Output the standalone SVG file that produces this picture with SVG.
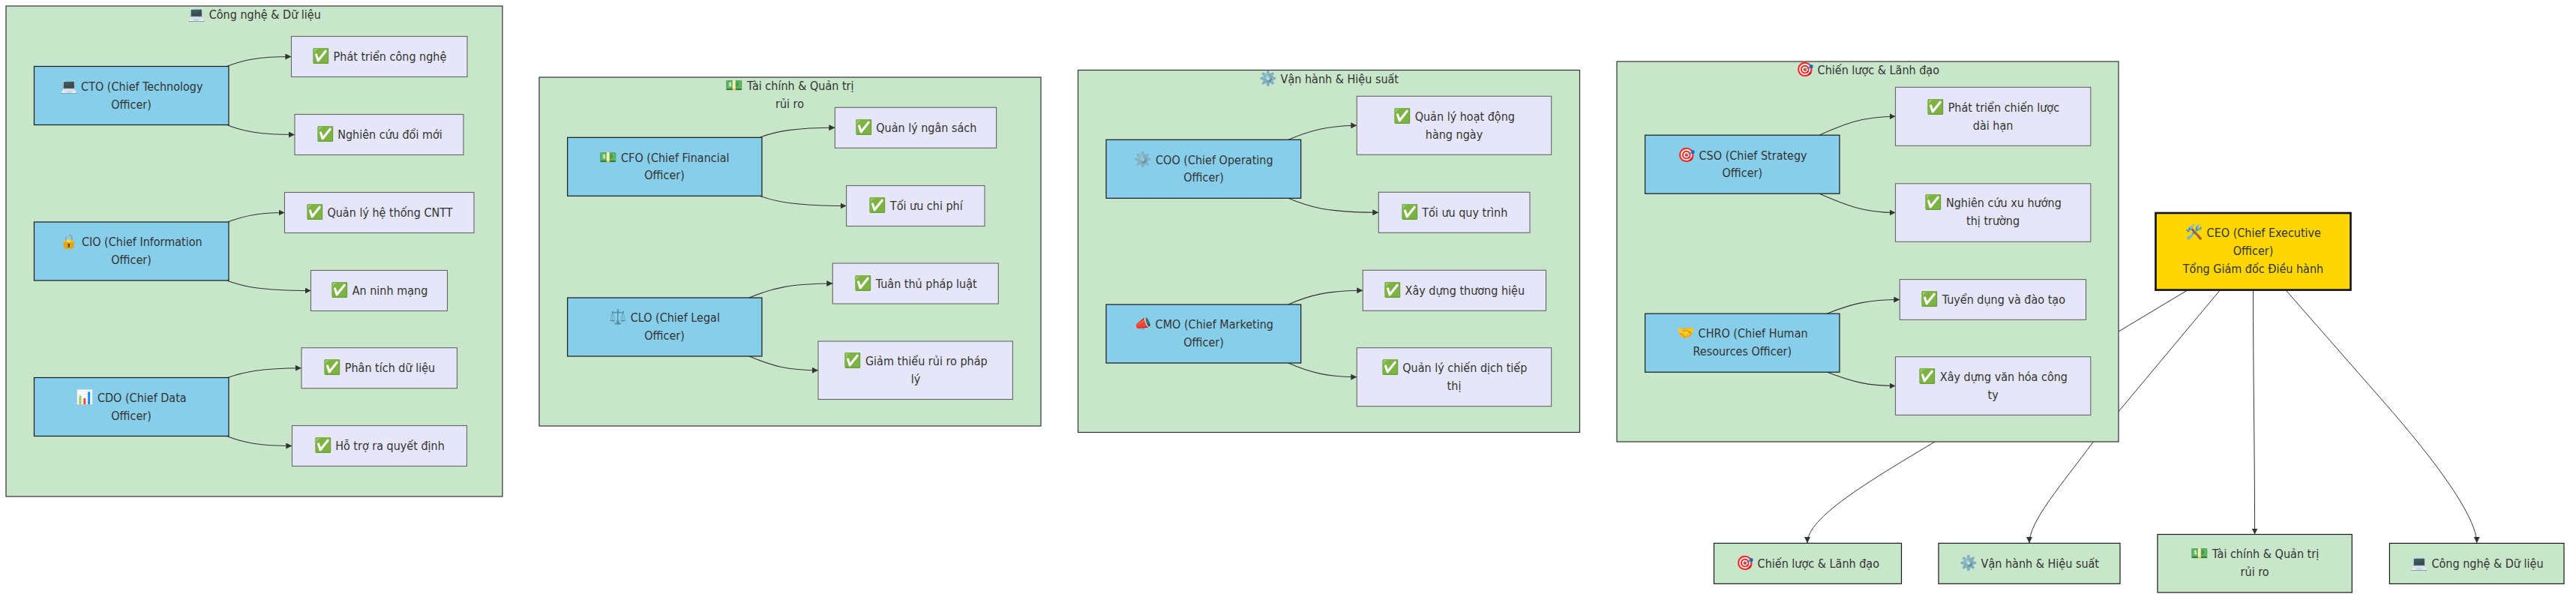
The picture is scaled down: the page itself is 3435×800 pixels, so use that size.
<svg xmlns="http://www.w3.org/2000/svg" width="3435" height="800" viewBox="0 0 3435 800">
<style>
text{font-family:"DejaVu Sans",sans-serif;font-stretch:condensed;font-size:16px;fill:#333;text-anchor:middle}
.m{font-size:19px}
.cl{fill:#c8e6c9;stroke:#333;stroke-width:1.2}
.r{fill:#87ceeb;stroke:#1a1a1a;stroke-width:1.2}
.t{fill:#e6e6fa;stroke:#666;stroke-width:1.1}
.g{fill:#c8e6c9;stroke:#1a1a1a;stroke-width:1.2}
.ceo{fill:#ffd700;stroke:#111;stroke-width:2.6}
.e{fill:none;stroke:#333;stroke-width:1.1;marker-end:url(#a)}
.c{fill:none;stroke:#333;stroke-width:1;marker-end:url(#a)}
</style>
<defs><marker id="a" viewBox="0 0 10 10" refX="10" refY="5" markerWidth="8" markerHeight="8" markerUnits="userSpaceOnUse" orient="auto"><path d="M0,0L10,5L0,10z" fill="#333"/></marker></defs>
<g id="ceo-edges">
<path class="c" d="M2917.4,386.6L2580,589C2490,643 2410,690 2410,724"/>
<path class="c" d="M2960.5,386.6L2791.4,589C2750,645 2706,695 2706,724"/>
<path class="c" d="M3004.5,386.6C3004.5,500 3006.6,600 3006.6,712.5"/>
<path class="c" d="M3047.8,386.6L3177,534C3250,617 3302.7,690 3302.7,724"/>
</g>
<g id="c-tech"><rect class="cl" x="8" y="8" width="662" height="654"/><text x="339" y="25"><tspan class="m">💻</tspan> Công nghệ &amp; Dữ liệu</text></g>
<g id="c-fin"><rect class="cl" x="719" y="103" width="669" height="465"/><text x="1053" y="120"><tspan class="m">💵</tspan> Tài chính &amp; Quản trị</text><text x="1053" y="144">rủi ro</text></g>
<g id="c-ops"><rect class="cl" x="1437.5" y="93.5" width="669" height="483"/><text x="1772" y="111"><tspan class="m">⚙️</tspan> Vận hành &amp; Hiệu suất</text></g>
<g id="c-str"><rect class="cl" x="2156" y="82" width="669" height="507"/><text x="2490.5" y="99"><tspan class="m">🎯</tspan> Chiến lược &amp; Lãnh đạo</text></g>
<g id="connectors">
<path class="e" d="M303.6,88C325,80 345,75.5 388.4,75.5"/>
<path class="e" d="M303.6,167C325,175 345,179.5 392.9,179.5"/>
<path class="e" d="M303.6,296C325,288 345,283.5 379.5,283.5"/>
<path class="e" d="M303.6,374.5C325,382 345,387.5 414.7,387.5"/>
<path class="e" d="M303.6,503.5C325,496 350,490.7 401.8,490.7"/>
<path class="e" d="M303.6,582C325,590 345,594.5 389.3,594.5"/>
<path class="e" d="M1013.8,183C1035,175 1060,170.3 1113.4,170.3"/>
<path class="e" d="M1013.8,261.5C1035,269 1060,274.5 1128.6,274.5"/>
<path class="e" d="M999,397C1030,384 1055,378 1110.3,378"/>
<path class="e" d="M999,475C1030,488 1050,493.7 1091,493.7"/>
<path class="e" d="M1718,186.3C1745,175 1770,167.3 1809.3,167.3"/>
<path class="e" d="M1718,264.3C1745,276 1770,283.3 1838.3,283.3"/>
<path class="e" d="M1718,406C1745,394 1770,387.3 1817.3,387.3"/>
<path class="e" d="M1718,484C1745,496 1770,502.7 1809.3,502.7"/>
<path class="e" d="M2426,180.2C2460,165 2485,155.3 2527.5,155.3"/>
<path class="e" d="M2426,258.3C2460,273 2485,283.5 2527.5,283.5"/>
<path class="e" d="M2436,418.2C2470,405 2490,399.5 2533.3,399.5"/>
<path class="e" d="M2436,496C2470,509 2490,514.5 2527.5,514.5"/>
</g>
<g id="cto"><rect class="r" x="45.5" y="88.5" width="259.5" height="78"/><text x="175" y="120.5"><tspan class="m">💻</tspan> CTO (Chief Technology</text><text x="175" y="144.5">Officer)</text></g>
<g id="cio"><rect class="r" x="45.5" y="296" width="259.5" height="78"/><text x="175" y="328"><tspan class="m">🔒</tspan> CIO (Chief Information</text><text x="175" y="352">Officer)</text></g>
<g id="cdo"><rect class="r" x="45.5" y="503.5" width="259.5" height="78"/><text x="175" y="535.5"><tspan class="m">📊</tspan> CDO (Chief Data</text><text x="175" y="559.5">Officer)</text></g>
<g id="t1"><rect class="t" x="388.5" y="48.5" width="234.5" height="54"/><text x="505.7" y="81"><tspan class="m">✅</tspan> Phát triển công nghệ</text></g>
<g id="t2"><rect class="t" x="393" y="152.5" width="225" height="54"/><text x="505.7" y="185"><tspan class="m">✅</tspan> Nghiên cứu đổi mới</text></g>
<g id="t3"><rect class="t" x="379.5" y="256.5" width="252.5" height="54"/><text x="505.7" y="289"><tspan class="m">✅</tspan> Quản lý hệ thống CNTT</text></g>
<g id="t4"><rect class="t" x="414.5" y="360.5" width="182" height="54"/><text x="505.7" y="393"><tspan class="m">✅</tspan> An ninh mạng</text></g>
<g id="t5"><rect class="t" x="402" y="463.7" width="207.5" height="54"/><text x="505.7" y="496"><tspan class="m">✅</tspan> Phân tích dữ liệu</text></g>
<g id="t6"><rect class="t" x="389.5" y="567.5" width="233" height="54"/><text x="505.7" y="600"><tspan class="m">✅</tspan> Hỗ trợ ra quyết định</text></g>
<g id="cfo"><rect class="r" x="756.7" y="183.3" width="259.3" height="78"/><text x="886" y="215.5"><tspan class="m">💵</tspan> CFO (Chief Financial</text><text x="886" y="238.5">Officer)</text></g>
<g id="clo"><rect class="r" x="756.7" y="397" width="259.3" height="78"/><text x="886" y="429"><tspan class="m">⚖️</tspan> CLO (Chief Legal</text><text x="886" y="453">Officer)</text></g>
<g id="t7"><rect class="t" x="1113.4" y="143.3" width="215.2" height="54"/><text x="1221" y="176"><tspan class="m">✅</tspan> Quản lý ngân sách</text></g>
<g id="t8"><rect class="t" x="1128.6" y="247.5" width="184.4" height="54"/><text x="1221" y="280"><tspan class="m">✅</tspan> Tối ưu chi phí</text></g>
<g id="t9"><rect class="t" x="1110.3" y="351" width="221" height="54"/><text x="1221" y="384"><tspan class="m">✅</tspan> Tuân thủ pháp luật</text></g>
<g id="t10"><rect class="t" x="1091" y="455" width="259.4" height="77.5"/><text x="1221" y="487"><tspan class="m">✅</tspan> Giảm thiểu rủi ro pháp</text><text x="1221" y="511">lý</text></g>
<g id="coo"><rect class="r" x="1475" y="186.3" width="259.7" height="78"/><text x="1605" y="219"><tspan class="m">⚙️</tspan> COO (Chief Operating</text><text x="1605" y="242">Officer)</text></g>
<g id="cmo"><rect class="r" x="1475" y="406" width="259.7" height="78"/><text x="1605" y="438"><tspan class="m">📣</tspan> CMO (Chief Marketing</text><text x="1605" y="462">Officer)</text></g>
<g id="t11"><rect class="t" x="1809.3" y="128.3" width="259.4" height="78"/><text x="1939" y="161"><tspan class="m">✅</tspan> Quản lý hoạt động</text><text x="1939" y="185">hàng ngày</text></g>
<g id="t12"><rect class="t" x="1838.3" y="256.3" width="201.7" height="54"/><text x="1939" y="289"><tspan class="m">✅</tspan> Tối ưu quy trình</text></g>
<g id="t13"><rect class="t" x="1817.3" y="360.3" width="244.2" height="54"/><text x="1939" y="393"><tspan class="m">✅</tspan> Xây dựng thương hiệu</text></g>
<g id="t14"><rect class="t" x="1809.3" y="463.7" width="259.4" height="78"/><text x="1939" y="496"><tspan class="m">✅</tspan> Quản lý chiến dịch tiếp</text><text x="1939" y="520">thị</text></g>
<g id="cso"><rect class="r" x="2193.6" y="180.2" width="259.4" height="78"/><text x="2323.3" y="212.5"><tspan class="m">🎯</tspan> CSO (Chief Strategy</text><text x="2323.3" y="236">Officer)</text></g>
<g id="chro"><rect class="r" x="2193.6" y="418.2" width="259.4" height="78"/><text x="2323.3" y="450"><tspan class="m">🤝</tspan> CHRO (Chief Human</text><text x="2323.3" y="474">Resources Officer)</text></g>
<g id="t15"><rect class="t" x="2527.5" y="116.3" width="260.3" height="78"/><text x="2657.6" y="149"><tspan class="m">✅</tspan> Phát triển chiến lược</text><text x="2657.6" y="173">dài hạn</text></g>
<g id="t16"><rect class="t" x="2527.5" y="244.8" width="260.3" height="77.5"/><text x="2657.6" y="276"><tspan class="m">✅</tspan> Nghiên cứu xu hướng</text><text x="2657.6" y="300">thị trường</text></g>
<g id="t17"><rect class="t" x="2533.3" y="372.6" width="248.2" height="53.7"/><text x="2657.6" y="405"><tspan class="m">✅</tspan> Tuyển dụng và đào tạo</text></g>
<g id="t18"><rect class="t" x="2527.5" y="475.7" width="260.3" height="77.7"/><text x="2657.6" y="508"><tspan class="m">✅</tspan> Xây dựng văn hóa công</text><text x="2657.6" y="532">ty</text></g>
<g id="ceo"><rect class="ceo" x="2874.5" y="284" width="260" height="102.6"/><text x="3004.5" y="316"><tspan class="m">🛠️</tspan> CEO (Chief Executive</text><text x="3004.5" y="340">Officer)</text><text x="3004.5" y="364">Tổng Giám đốc Điều hành</text></g>
<g id="g-str"><rect class="g" x="2285.5" y="724.3" width="250" height="54"/><text x="2410.5" y="757"><tspan class="m">🎯</tspan> Chiến lược &amp; Lãnh đạo</text></g>
<g id="g-ops"><rect class="g" x="2585" y="724.3" width="242" height="54"/><text x="2706" y="757"><tspan class="m">⚙️</tspan> Vận hành &amp; Hiệu suất</text></g>
<g id="g-fin"><rect class="g" x="2877" y="712.5" width="259.3" height="77.5"/><text x="3006.6" y="744"><tspan class="m">💵</tspan> Tài chính &amp; Quản trị</text><text x="3006.6" y="768">rủi ro</text></g>
<g id="g-tech"><rect class="g" x="3186.4" y="724.4" width="232.6" height="54"/><text x="3302.7" y="757"><tspan class="m">💻</tspan> Công nghệ &amp; Dữ liệu</text></g>
</svg>
